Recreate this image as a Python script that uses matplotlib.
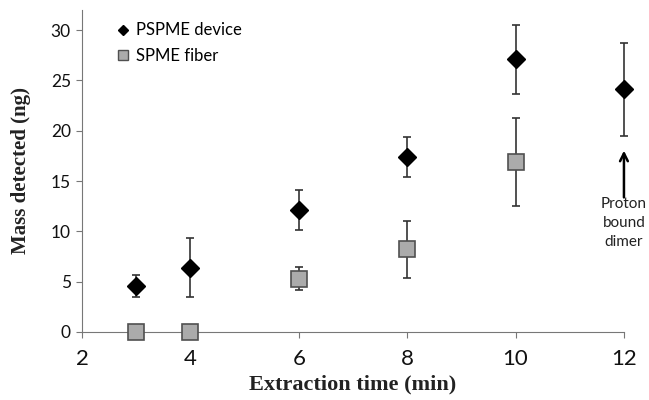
import matplotlib
matplotlib.use('Agg')
import matplotlib.pyplot as plt
from matplotlib.lines import Line2D

# values
times = [3, 4, 6, 8, 10, 12]
pspme = [4.6, 6.4, 12.1, 17.4, 27.1, 24.1]
pspme_err = [1.1, 2.9, 2.0, 2.0, 3.45, 4.65]

spme_times = [3, 4, 6, 8, 10]
spme = [0, 0, 5.3, 8.2, 16.9]
spme_err = [0, 0, 1.15, 2.8, 4.4]

x_ticks = [2, 4, 6, 8, 10, 12]
y_ticks = [0, 5, 10, 15, 20, 25, 30]

fig = plt.figure(figsize=(6.49, 4.0), dpi=100)
ax = fig.add_axes([0.1264, 0.17, 0.835, 0.805])

ax.errorbar(spme_times, spme, yerr=spme_err, fmt='s', ms=11.5,
            mfc='#ababab', mec='#505050', mew=1.2, ecolor='#333333',
            elinewidth=1.2, capsize=3, capthick=1.2, clip_on=False,
            zorder=3)
ax.errorbar(times, pspme, yerr=pspme_err, fmt='D', ms=9,
            mfc='black', mec='black', ecolor='#333333',
            elinewidth=1.2, capsize=3, capthick=1.2, clip_on=False,
            zorder=4)

ax.annotate('', xy=(12, 18.3), xytext=(12, 13.1),
            arrowprops=dict(arrowstyle='->', color='black', lw=1.8,
                            mutation_scale=14))
ax.text(12, 13.4, 'Proton\nbound\ndimer', ha='center', va='top',
        fontsize=11, family='Lato', linespacing=1.45, color='#222222')

ax.set_xlim(2, 12)
ax.set_ylim(0, 32)
ax.set_xticks(x_ticks)
ax.set_yticks(y_ticks)
ax.tick_params(axis='x', labelsize=16, direction='out', length=4,
               color='#777777', pad=8)
ax.tick_params(axis='y', labelsize=12.5, direction='out', length=4,
               color='#777777', pad=4)
for lab in ax.get_xticklabels() + ax.get_yticklabels():
    lab.set_family('Lato')
    lab.set_color('#111111')

ax.spines['right'].set_color('none')
ax.spines['top'].set_color('none')
ax.spines['left'].set_color('#777777')
ax.spines['bottom'].set_color('#777777')

ax.set_xlabel('Extraction time (min)', family='Liberation Serif',
              fontsize=16, fontweight='bold', color='#222222', labelpad=4)
ax.set_ylabel('Mass detected (ng)', family='Liberation Serif',
              fontsize=15, fontweight='bold', color='#222222', labelpad=14)

handles = [
    Line2D([], [], ls='none', marker='D', ms=5, mfc='black', mec='black'),
    Line2D([], [], ls='none', marker='s', ms=6.5, mfc='#ababab',
           mec='#505050', mew=1),
]
ax.legend(handles, ['PSPME device', 'SPME fiber'], loc='upper left',
          bbox_to_anchor=(0.038, 1.008), frameon=False,
          prop={'family': 'Lato', 'size': 12}, handlelength=0.6,
          handletextpad=0.5, labelspacing=0.55)

fig.savefig('out.png', dpi=100, facecolor='white')
